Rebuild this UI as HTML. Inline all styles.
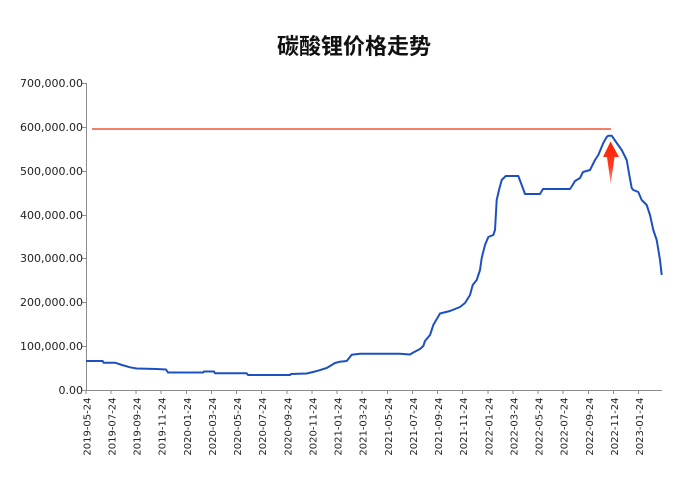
<!DOCTYPE html>
<html>
<head>
<meta charset="utf-8">
<style>
html,body{margin:0;padding:0;background:#fff;}
svg{display:block;}
</style>
</head>
<body>
<svg width="700" height="477" viewBox="0 0 700 477" xmlns="http://www.w3.org/2000/svg">
<defs>
<linearGradient id="ag" x1="0" y1="0" x2="0" y2="1">
<stop offset="0" stop-color="#ff1e00"/>
<stop offset="0.6" stop-color="#ff3a20"/>
<stop offset="1" stop-color="#ff9a90"/>
</linearGradient>
</defs>
<rect width="700" height="477" fill="#fff"/>
<text x="354" y="54" text-anchor="middle" font-family="'Liberation Sans','Noto Sans CJK SC',sans-serif" font-size="22" font-weight="700" fill="#111">碳酸锂价格走势</text>

<!-- axes -->
<g stroke="#8c8c8c" stroke-width="1" fill="none">
<line x1="86.5" y1="83" x2="86.5" y2="390.5"/>
<line x1="86" y1="390.5" x2="662" y2="390.5"/>
<line x1="82" y1="83.5" x2="86" y2="83.5"/>
<line x1="82" y1="127.5" x2="86" y2="127.5"/>
<line x1="82" y1="171.5" x2="86" y2="171.5"/>
<line x1="82" y1="215.5" x2="86" y2="215.5"/>
<line x1="82" y1="258.5" x2="86" y2="258.5"/>
<line x1="82" y1="302.5" x2="86" y2="302.5"/>
<line x1="82" y1="346.5" x2="86" y2="346.5"/>
<line x1="82" y1="390.5" x2="86" y2="390.5"/>
</g>
<g stroke="#8c8c8c" stroke-width="1">
<line x1="86" y1="390" x2="86" y2="394"/>
<line x1="111" y1="390" x2="111" y2="394"/>
<line x1="136" y1="390" x2="136" y2="394"/>
<line x1="161" y1="390" x2="161" y2="394"/>
<line x1="186.5" y1="390" x2="186.5" y2="394"/>
<line x1="211.5" y1="390" x2="211.5" y2="394"/>
<line x1="236.5" y1="390" x2="236.5" y2="394"/>
<line x1="261.5" y1="390" x2="261.5" y2="394"/>
<line x1="287" y1="390" x2="287" y2="394"/>
<line x1="312" y1="390" x2="312" y2="394"/>
<line x1="337" y1="390" x2="337" y2="394"/>
<line x1="362" y1="390" x2="362" y2="394"/>
<line x1="387.5" y1="390" x2="387.5" y2="394"/>
<line x1="412.5" y1="390" x2="412.5" y2="394"/>
<line x1="437.5" y1="390" x2="437.5" y2="394"/>
<line x1="462.5" y1="390" x2="462.5" y2="394"/>
<line x1="488" y1="390" x2="488" y2="394"/>
<line x1="513" y1="390" x2="513" y2="394"/>
<line x1="538" y1="390" x2="538" y2="394"/>
<line x1="563" y1="390" x2="563" y2="394"/>
<line x1="588.5" y1="390" x2="588.5" y2="394"/>
<line x1="613.5" y1="390" x2="613.5" y2="394"/>
<line x1="638.5" y1="390" x2="638.5" y2="394"/>
</g>

<!-- y labels -->
<g font-family="'DejaVu Sans',sans-serif" font-size="11" fill="#222" text-anchor="end">
<text x="83" y="87">700,000.00</text>
<text x="83" y="131">600,000.00</text>
<text x="83" y="175">500,000.00</text>
<text x="83" y="219">400,000.00</text>
<text x="83" y="262">300,000.00</text>
<text x="83" y="306">200,000.00</text>
<text x="83" y="350">100,000.00</text>
<text x="83" y="394">0.00</text>
</g>

<!-- x labels -->
<g font-family="'DejaVu Sans',sans-serif" font-size="10" fill="#222" text-anchor="end">
<text transform="translate(90.5,397.5) rotate(-90)">2019-05-24</text>
<text transform="translate(115.5,397.5) rotate(-90)">2019-07-24</text>
<text transform="translate(140.5,397.5) rotate(-90)">2019-09-24</text>
<text transform="translate(165.5,397.5) rotate(-90)">2019-11-24</text>
<text transform="translate(191,397.5) rotate(-90)">2020-01-24</text>
<text transform="translate(216,397.5) rotate(-90)">2020-03-24</text>
<text transform="translate(241,397.5) rotate(-90)">2020-05-24</text>
<text transform="translate(266,397.5) rotate(-90)">2020-07-24</text>
<text transform="translate(291.5,397.5) rotate(-90)">2020-09-24</text>
<text transform="translate(316.5,397.5) rotate(-90)">2020-11-24</text>
<text transform="translate(341.5,397.5) rotate(-90)">2021-01-24</text>
<text transform="translate(366.5,397.5) rotate(-90)">2021-03-24</text>
<text transform="translate(392,397.5) rotate(-90)">2021-05-24</text>
<text transform="translate(417,397.5) rotate(-90)">2021-07-24</text>
<text transform="translate(442,397.5) rotate(-90)">2021-09-24</text>
<text transform="translate(467,397.5) rotate(-90)">2021-11-24</text>
<text transform="translate(492.5,397.5) rotate(-90)">2022-01-24</text>
<text transform="translate(517.5,397.5) rotate(-90)">2022-03-24</text>
<text transform="translate(542.5,397.5) rotate(-90)">2022-05-24</text>
<text transform="translate(567.5,397.5) rotate(-90)">2022-07-24</text>
<text transform="translate(593,397.5) rotate(-90)">2022-09-24</text>
<text transform="translate(618,397.5) rotate(-90)">2022-11-24</text>
<text transform="translate(643,397.5) rotate(-90)">2023-01-24</text>
</g>

<!-- red reference line -->
<line x1="92" y1="129" x2="611" y2="129" stroke="#f05535" stroke-width="1.5"/>

<!-- blue series -->
<polyline fill="none" stroke="#1c50c0" stroke-width="2" stroke-linejoin="round" points="
86,361 102.7,361 103.5,362.7 115,362.7 122,365 130,367.3 136.7,368.5 156.7,369 166,369.5 168,372.5 203,372.5 204,371.5 214,371.5 215,373.3 246.7,373.3 248,375 290,375 291,374 306.7,373.5 313,372 318,370.7 326.7,368 335,363 340,361.7 346.7,361 351.7,354.7 360,353.7 400,353.7 410,354.5 413.3,352.5 420,349 423.3,346 425,341 430,335 431.7,330 433.3,325 440,313.5 450,311 460,307 465,303 470,295 472.7,285 476.7,280 480,270 481.7,258 485,245 488.3,237 493.3,235 495,230 496.7,200 499,190 501.7,180 505.7,176 518.3,176 521.7,185 525,194 540,194 543,189 570,189 572,186 575,181 580,178 583,172 590,170 595,160 598.3,155 603.3,143 606.7,137 608.3,135.7 611.7,135.7 616.7,143 621.7,150 626.7,160 629.3,175 631.7,188 633.3,190 638.3,192 641.7,200 646.7,205 650,215 653.3,230 656.7,240 660,260 661.7,275"/>

<!-- red arrow -->
<polygon points="610.5,141.5 603,157 607,157 610.7,184 614.5,157 619,157" fill="url(#ag)"/>
</svg>
</body>
</html>
